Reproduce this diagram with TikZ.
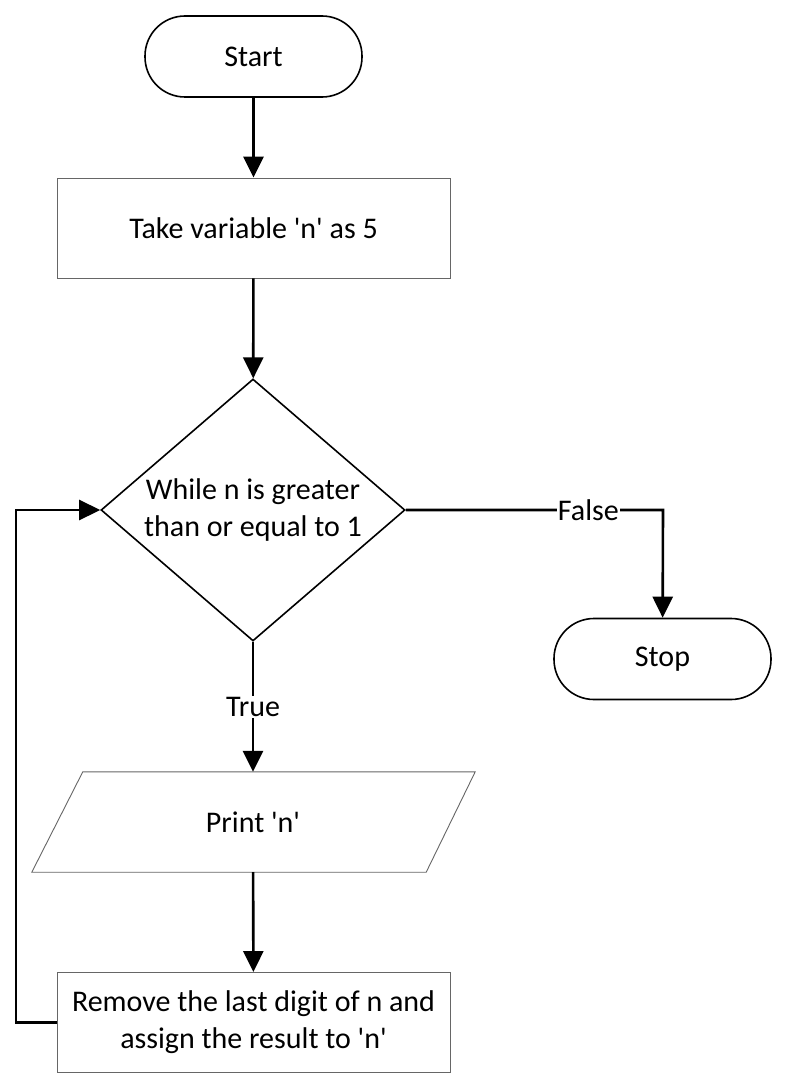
\documentclass[tikz,border=0pt]{standalone}
\usepackage{fontspec}
\setmainfont{Carlito}
\usetikzlibrary{shapes.geometric,arrows.meta}
\newcommand{\sq}{\textquotesingle}
\begin{document}
\begin{tikzpicture}[x=1pt,y=-1pt,
  every node/.style={font=\fontsize{30}{37}\selectfont, align=center},
  terminal/.style={draw=black, line width=1.6pt, rounded corners=40pt, minimum width=217pt, minimum height=81pt, inner sep=0pt},
  procbox/.style={draw=black!60, line width=0.9pt, minimum width=393pt, minimum height=100pt, inner sep=0pt},
  decision/.style={draw=black, line width=1.6pt, shape=diamond, minimum width=304pt, minimum height=262pt, inner sep=0pt},
  ioslot/.style={minimum width=394pt, minimum height=100pt, inner sep=0pt},
  conn/.style={line width=2.6pt, -{Triangle[length=21pt,width=20pt]}},
  lbl/.style={fill=white, inner sep=1pt}
]
\useasboundingbox (0,0) rectangle (787,1089);
\fill[white] (0,0) rectangle (787,1089);
\node[terminal] (start) at (253.5,56.5) {Start};
\node[procbox] (take) at (253.5,228) {Take variable \sq n\sq{} as 5};
\node[decision] (while) at (253,510) {};
\node (whiletext) at (while.center) {While n is greater\\than or equal to 1};
\node[terminal] (stop) at (662.5,659) {Stop};
\node[ioslot] (print) at (253,822) {Print \sq n\sq};
\draw[draw=black!60, line width=0.9pt] ([xshift=27pt]print.north west) -- ([xshift=25pt]print.north east) -- ([xshift=-24pt]print.south east) -- ([xshift=-24pt]print.south west) -- cycle;
\node[procbox] (remove) at (253.5,1022.5) {Remove the last digit of n and\\assign the result to \sq n\sq};
\coordinate (corner) at (663,510);
\coordinate (loopbot) at (16,1022.5);
\coordinate (looptop) at (16,510);
\draw[conn] (start) -- (take);
\draw[conn] (take) -- (while);
\draw[conn] (while.east) -- node[lbl, pos=0.71]{False} (corner) -- (stop);
\draw[conn] (while.south) -- node[lbl, pos=0.5]{True} (print.north);
\draw[conn] (print) -- (remove);
\draw[conn] (remove.west) -- (loopbot) -- (looptop) -- (while.west);
\end{tikzpicture}
\end{document}
